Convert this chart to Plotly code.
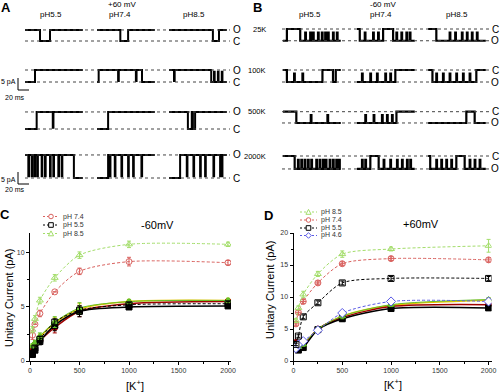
import plotly.graph_objects as go

W, H = 500, 392
FONT = "Liberation Sans, Arial, sans-serif"


def px(x):
    return x / W


def py(y):
    return 1 - y / H


# ======================= DATA =======================
PH_COLUMNS = ["pH5.5", "pH7.4", "pH8.5"]
B_ROW_LABELS = ["25K", "100K", "500K", "2000K"]
A_AMP_PA = [4.6, 5.0, 7.1, 9.6]          # single-channel amplitude per row, +60 mV
B_AMP_PA = [4.9, 5.0, 4.7, 5.4]          # single-channel amplitude per row, -60 mV
SNIPPET_MS = 104

# state transitions (time ms, 1 = open, 0 = closed) for each row x pH column
A_EVENTS = [
    [[(0, 1), (27, 0), (45, 1)], [(0, 1), (42, 0), (56, 1)], [(0, 1), (79, 0), (90, 1)]],
    [[(0, 0), (18, 1)], [(0, 0), (3, 1), (81, 0)], [(0, 1), (76, 0)]],
    [[(0, 0), (21, 1)], [(0, 0), (20, 1)], [(0, 1), (34, 0), (41, 1), (43, 0), (47, 1)]],
    [[(0, 1), (88, 0)], [(0, 0), (20, 1)], [(0, 0), (20, 1)]],
]
A_FLICKERS = [
    [[], [], []],
    [[], [38, 70], [9, 81, 88, 95]],
    [[50], [], []],
    [[6, 12, 17, 22, 30, 36, 45, 51, 60, 66], [23, 32, 44, 56, 65, 80], [32, 44, 56, 65, 80, 92, 95]],
]
B_EVENTS = [
    [[(0, 1), (7, 0), (31, 1)], [(0, 0), (5, 1), (47, 0), (65, 1)], [(0, 0), (15, 1)]],
    [[(0, 0), (7, 1), (71, 0), (90, 1), (95, 0)], [(0, 1), (69, 0)], [(0, 0), (8, 1), (87, 0)]],
    [[(0, 0), (24, 1)], [(0, 1), (71, 0)], [(0, 1), (69, 0), (84, 1)]],
    [[(0, 0), (21, 1)], [(0, 1), (24, 0), (39, 1)], [(0, 0), (4, 1), (51, 0), (66, 1)]],
]
B_FLICKERS = [
    [[40, 49, 54, 63, 70, 76, 81, 90, 97], [14, 29, 38, 71, 80, 89, 95], [39, 49, 61, 70, 79, 88]],
    [[20, 35], [9, 24, 36, 51, 60], [15, 27, 39, 51, 63, 75]],
    [[50, 80], [15, 30, 45, 54, 63], []],
    [[27, 33, 39, 45, 51, 60, 66, 72, 77, 84, 90, 96, 101], [9, 15, 48, 60, 72, 81, 90, 96],
     [15, 24, 33, 42, 75, 84, 93]],
]

# Concentration dependence (pA) vs [K+] (mM)
K_CONC = [25, 50, 100, 250, 500, 1000, 2000]

C_PH74 = [2.4, 3.4, 4.4, 6.4, 8.3, 9.2, 9.1]
C_PH74_ERR = [0.4, 0.0, 0.3, 0.0, 0.3, 0.4, 0.2]
C_PH55 = [0.7, 1.2, 2.0, 3.6, 4.7, 5.2, 5.3]
C_PH55_ERR = [0.2, 0.2, 0.3, 0.3, 0.4, 0.2, 0.2]
C_PH85 = [2.9, 3.9, 5.6, 7.7, 9.8, 10.8, 10.8]
C_PH85_ERR = [0.3, 0.3, 0.3, 0.3, 0.3, 0.3, 0.2]
C_FILLED_BLACK = [0.6, 1.0, 1.8, 3.3, 4.6, 5.0, 5.1]
C_FILLED_RED = [1.2, 1.5, 1.9, 3.1, 4.6, 5.3, 5.5]
C_FILLED_GREEN = [1.4, 1.7, 2.3, 3.6, 4.9, 5.5, 5.6]
C_FILLED_YELLOW = [1.3, 1.6, 2.2, 3.5, 4.8, 5.5, 5.6]
C_FILLED_ERR = [0.2, 0.2, 0.3, 0.5, 0.5, 0.2, 0.2]

D_PH85 = [6.3, 8.3, 10.4, 13.6, 16.7, 17.5, 18.0]
D_PH85_ERR = [0.3, 0.3, 0.5, 0.4, 0.5, 0.3, 1.0]
D_PH74 = [5.8, 7.6, 9.3, 12.2, 15.2, 16.0, 15.8]
D_PH74_ERR = [0.3, 0.3, 0.3, 0.3, 0.3, 0.3, 0.3]
D_PH55 = [2.6, 3.9, 6.9, 9.1, 12.2, 12.9, 12.9]
D_PH55_ERR = [0.2, 0.2, 0.3, 0.3, 0.3, 0.3, 0.3]
D_PH46 = [2.0, 2.6, 3.1, 4.8, 7.5, 9.3, 9.3]
D_PH46_ERR = [0.2, 0.2, 0.3, 0.3, 0.3, 0.3, 0.3]
D_FILLED_BLACK = [2.6, 1.7, 2.1, 4.9, 6.6, 8.2, 8.3]
D_FILLED_RED = [2.9, 2.0, 2.4, 5.0, 6.8, 8.5, 8.8]
D_FILLED_GREEN = [2.5, 2.2, 2.6, 5.0, 7.0, 8.8, 9.6]
D_FILLED_YELLOW = [2.5, 2.2, 2.6, 4.9, 7.0, 8.7, 9.5]
D_FILLED_ERR = [0.3, 0.2, 0.3, 0.3, 0.4, 0.3, 0.3]

# ======================= LAYOUT CONSTANTS =======================
PX_PER_PA = 2.4
MS_PER_PX = 1.8
TRACE_H_PX = 200
A_COL_START_PX = [25, 97, 169]
B_COL_START_PX = [33, 107, 178]            # relative to panel B's left edge (250 px)
A_ROW_CLOSED_PX = [41, 82, 129, 178]
B_ROW_CLOSED_PX = [29, 70, 111.7, 156]


def state_at(events, t):
    s = events[0][1]
    for te, se in events:
        if te <= t:
            s = se
    return s


def snippet_xy(events, flickers, t0, base, amp, sign, fdur=1.2, closed_to=0.08):
    pts = list(events)
    for tf in flickers:
        s = state_at(events, tf)
        target = closed_to if s >= 0.5 else 0.85
        pts.append((tf, target))
        pts.append((tf + fdur, s))
    pts.sort(key=lambda p: p[0])
    pts.append((SNIPPET_MS, state_at(events, SNIPPET_MS)))
    xs = [t0 + t for t, _ in pts]
    ys = [base + sign * amp * s for _, s in pts]
    return xs, ys


def panel_traces(events, flickers, amps, col_px, row_px, sign, closed_to):
    X, Y = [], []
    for r in range(4):
        base = -row_px[r] / PX_PER_PA
        for c in range(3):
            xs, ys = snippet_xy(events[r][c], flickers[r][c], col_px[c] * MS_PER_PX,
                                base, amps[r], sign, closed_to=closed_to)
            X += xs + [None]
            Y += ys + [None]
    return X, Y


fig = go.Figure()

# ---- Panel A & B current traces ----
xa, ya = panel_traces(A_EVENTS, A_FLICKERS, A_AMP_PA, A_COL_START_PX, A_ROW_CLOSED_PX, +1, 0.08)
fig.add_trace(go.Scatter(x=xa, y=ya, mode="lines", line=dict(color="black", width=2, shape="hv"),
                         xaxis="x", yaxis="y", showlegend=False, hoverinfo="skip"))
xb, yb = panel_traces(B_EVENTS, B_FLICKERS, B_AMP_PA, B_COL_START_PX, B_ROW_CLOSED_PX, -1, 0.3)
fig.add_trace(go.Scatter(x=xb, y=yb, mode="lines", line=dict(color="black", width=2.2, shape="hv"),
                         xaxis="x2", yaxis="y2", showlegend=False, hoverinfo="skip"))

shapes = []
annotations = []


def note(x, y, text, size, xref="paper", yref="paper", xanchor="center", yanchor="middle",
         color="black", **kw):
    d = dict(xref=xref, yref=yref, x=x, y=y, text=text, showarrow=False, xanchor=xanchor,
             yanchor=yanchor, borderpad=0, font=dict(size=size, color=color, family=FONT))
    d.update(kw)
    annotations.append(d)


# dotted O/C reference lines and labels
for r in range(4):
    base = -A_ROW_CLOSED_PX[r] / PX_PER_PA
    for lvl, lab in ((base + A_AMP_PA[r], "O"), (base, "C")):
        shapes.append(dict(type="line", xref="x", yref="y", x0=25 * MS_PER_PX, x1=230 * MS_PER_PX,
                           y0=lvl, y1=lvl, line=dict(color="#444", width=1, dash="dot")))
        note(px(236.5), lvl, lab, 10, yref="y")
    baseb = -B_ROW_CLOSED_PX[r] / PX_PER_PA
    for lvl, lab in ((baseb, "C"), (baseb - B_AMP_PA[r], "O")):
        shapes.append(dict(type="line", xref="x2", yref="y2", x0=32 * MS_PER_PX, x1=240 * MS_PER_PX,
                           y0=lvl, y1=lvl, line=dict(color="#444", width=1, dash="dot")))
        note(px(495), lvl, lab, 10, yref="y2")
    note(px(267), baseb, B_ROW_LABELS[r], 7.5, yref="y2", xanchor="right")

# pH column headers
for i, lab in enumerate(PH_COLUMNS):
    note(px([51, 120, 194][i]), py(15), lab, 8)
    note(px([310, 381, 457][i]), py(15), lab, 8)
note(px(122), py(4.5), "+60 mV", 8)
note(px(383), py(4.5), "-60 mV", 8)

# scale bars
for (ytop, ybot, ylab, yms) in ((78, 90, 82, 97), (172, 184, 180, 190)):
    shapes.append(dict(type="line", xref="paper", yref="paper", x0=px(18), x1=px(18), y0=py(ytop), y1=py(ybot),
                       line=dict(color="black", width=1)))
    shapes.append(dict(type="line", xref="paper", yref="paper", x0=px(18), x1=px(29), y0=py(ybot), y1=py(ybot),
                       line=dict(color="black", width=1)))
    note(px(8.5), py(ylab), "5 pA", 7)
    note(px(15), py(yms), "20 ms", 7)

# panel letters
for lab, x, y in (("A", 6, 7), ("B", 257, 7), ("C", 5, 214), ("D", 268, 215)):
    note(px(x), py(y), "<b>%s</b>" % lab, 13)

# ---- Panels C & D ----
RED_L = "#d9625f"
GREEN_L = "#a3dd6a"
BLUE = "#5a5ae6"
RED_D = "#a00000"
GREEN_D = "#66c02a"
YELLOW = "#e8c400"


def series(x, y, err, color, symbol, dash, axis, fill=None, width=1.0, size=6):
    xa_, ya_ = axis
    return go.Scatter(
        x=x, y=y, mode="lines+markers", xaxis=xa_, yaxis=ya_, showlegend=False, hoverinfo="skip",
        line=dict(color=color, width=width, dash=dash, shape="spline", smoothing=0.8),
        marker=dict(symbol=symbol, size=size, color=fill if fill else color,
                    line=dict(color=color, width=1)),
        error_y=dict(type="data", array=err, visible=True, color=color, thickness=1, width=2),
    )


DASH = "3px,2px"
axC = ("x3", "y3")
axD = ("x4", "y4")
# lower (solid) groups first
fig.add_trace(series(K_CONC, C_FILLED_YELLOW, C_FILLED_ERR, YELLOW, "circle", "solid", axC, width=1.5, size=5))
fig.add_trace(series(K_CONC, C_FILLED_RED, C_FILLED_ERR, RED_D, "circle", "solid", axC, width=1.5))
fig.add_trace(series(K_CONC, C_FILLED_BLACK, C_FILLED_ERR, "black", "square", "solid", axC, width=1.5))
fig.add_trace(series(K_CONC, C_FILLED_GREEN, C_FILLED_ERR, GREEN_D, "triangle-up", "solid", axC, width=1.0))
fig.add_trace(series(K_CONC, C_PH55, C_PH55_ERR, "black", "square-open", DASH, axC))
fig.add_trace(series(K_CONC, C_PH74, C_PH74_ERR, RED_L, "circle-open", DASH, axC))
fig.add_trace(series(K_CONC, C_PH85, C_PH85_ERR, GREEN_L, "triangle-up-open", DASH, axC))

fig.add_trace(series(K_CONC, D_FILLED_YELLOW, D_FILLED_ERR, YELLOW, "circle", "solid", axD, width=1.5, size=5))
fig.add_trace(series(K_CONC, D_FILLED_RED, D_FILLED_ERR, RED_D, "circle", "solid", axD, width=1.5))
fig.add_trace(series(K_CONC, D_FILLED_BLACK, D_FILLED_ERR, "black", "square", "solid", axD, width=1.5))
fig.add_trace(series(K_CONC, D_FILLED_GREEN, D_FILLED_ERR, GREEN_D, "triangle-up", "solid", axD, width=1.0))
fig.add_trace(series(K_CONC, D_PH46, D_PH46_ERR, BLUE, "diamond", DASH, axD, fill="white", size=7))
fig.add_trace(series(K_CONC, D_PH55, D_PH55_ERR, "black", "square-open", DASH, axD))
fig.add_trace(series(K_CONC, D_PH74, D_PH74_ERR, RED_L, "circle-cross-open", DASH, axD))
fig.add_trace(series(K_CONC, D_PH85, D_PH85_ERR, GREEN_L, "triangle-up-open", DASH, axD))


# hand-drawn legends (shapes + text)
def legend_entry(x0, x1, y, color, mk, label, fill="white"):
    yy = py(y)
    xc = (x0 + x1) / 2
    shapes.append(dict(type="line", xref="paper", yref="paper", x0=px(x0), x1=px(x1), y0=yy, y1=yy,
                       line=dict(color=color, width=1, dash="2px,2px")))
    r = 2.3
    if mk == "circle":
        shapes.append(dict(type="circle", xref="paper", yref="paper", x0=px(xc - r), x1=px(xc + r),
                           y0=py(y + r), y1=py(y - r), line=dict(color=color, width=1), fillcolor=fill))
    elif mk == "square":
        shapes.append(dict(type="rect", xref="paper", yref="paper", x0=px(xc - r), x1=px(xc + r),
                           y0=py(y + r), y1=py(y - r), line=dict(color=color, width=1), fillcolor=fill))
    elif mk == "triangle":
        path = "M %f %f L %f %f L %f %f Z" % (px(xc - r - 0.3), py(y + r), px(xc + r + 0.3), py(y + r), px(xc), py(y - r - 0.3))
        shapes.append(dict(type="path", xref="paper", yref="paper", path=path,
                           line=dict(color=color, width=1), fillcolor=fill))
    elif mk == "diamond":
        path = "M %f %f L %f %f L %f %f L %f %f Z" % (px(xc - r - 0.5), py(y), px(xc), py(y - r - 0.5),
                                                      px(xc + r + 0.5), py(y), px(xc), py(y + r + 0.5))
        shapes.append(dict(type="path", xref="paper", yref="paper", path=path,
                           line=dict(color=color, width=1), fillcolor=fill))
    note(px(x1 + 3), yy, label, 7, xanchor="left", color="#333")


legend_entry(43, 59, 216.5, RED_L, "circle", "pH 7.4")
legend_entry(43, 59, 225, "black", "square", "pH 5.5")
legend_entry(43, 59, 233.5, GREEN_L, "triangle", "pH 8.5")
legend_entry(300, 317, 212, GREEN_L, "triangle", "pH 8.5")
legend_entry(300, 317, 220, RED_L, "circle", "pH 7.4")
legend_entry(300, 317, 228, "black", "square", "pH 5.5")
legend_entry(300, 317, 235.5, BLUE, "diamond", "pH 4.6")

note(px(157), py(225), "-60mV", 11)
note(px(421), py(224), "+60mV", 11)
note(px(9), py(298), "Unitary Current (pA)", 11, textangle=-90)
note(px(270), py(290), "Unitary Current (pA)", 11, textangle=-90)
note(px(135), py(385), "[K<sup>+</sup>]", 11)
note(px(393), py(384), "[K<sup>+</sup>]", 11)

hidden = dict(visible=False, showgrid=False, zeroline=False, fixedrange=True)
tick_font = dict(size=7, color="#333", family=FONT)
common_x = dict(range=[0, 2030], tickvals=[0, 500, 1000, 1500, 2000], showline=True, linecolor="black",
                linewidth=1, ticks="outside", ticklen=3, tickwidth=1, tickcolor="black", showgrid=False,
                zeroline=False, tickfont=tick_font, automargin=False,
                minor=dict(ticks="outside", ticklen=2, tickcolor="black", dtick=250))
common_y = dict(showline=True, linecolor="black", linewidth=1, ticks="outside", ticklen=3, tickwidth=1,
                tickcolor="black", showgrid=False, zeroline=False, tickfont=tick_font, automargin=False)

fig.update_layout(
    width=W, height=H, autosize=False,
    margin=dict(l=0, r=0, t=0, b=0, pad=0, autoexpand=False),
    paper_bgcolor="white", plot_bgcolor="rgba(0,0,0,0)",
    font=dict(family=FONT, color="black"),
    showlegend=False,
    xaxis=dict(domain=[0, 0.5], range=[0, 250 * MS_PER_PX], **hidden),
    yaxis=dict(domain=[py(TRACE_H_PX), 1], range=[-TRACE_H_PX / PX_PER_PA, 0], **hidden),
    xaxis2=dict(domain=[0.5, 1], range=[0, 250 * MS_PER_PX], **hidden),
    yaxis2=dict(domain=[py(TRACE_H_PX), 1], range=[-TRACE_H_PX / PX_PER_PA, 0], **hidden),
    xaxis3=dict(domain=[px(30), px(231)], anchor="y3", **common_x),
    yaxis3=dict(domain=[py(361), py(233)], range=[0, 11.85], tickvals=[0, 5, 10], anchor="x3",
                minor=dict(ticks="outside", ticklen=2, tickcolor="black", dtick=2.5), **common_y),
    xaxis4=dict(domain=[px(293.5), px(491.5)], anchor="y4", **common_x),
    yaxis4=dict(domain=[py(361), py(233)], range=[0, 20], tickvals=[0, 5, 10, 15, 20], anchor="x4",
                minor=dict(ticks="outside", ticklen=2, tickcolor="black", dtick=2.5), **common_y),
    shapes=shapes,
    annotations=annotations,
)

fig.write_html("out.html", config={"displayModeBar": False, "staticPlot": True},
               post_script="document.body.style.margin='0px';document.body.style.padding='0px';")
